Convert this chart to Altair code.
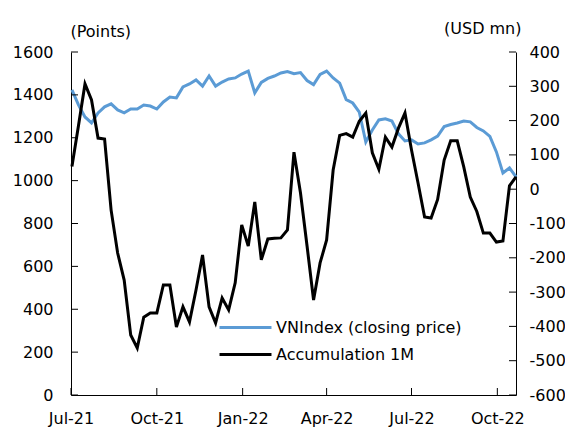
import altair as alt
import pandas as pd

# Weekly observations (Fridays) from 2 Jul 2021 to 21 Oct 2022
dates = pd.date_range("2021-07-02", periods=69, freq="7D")

vnindex = [1423, 1353, 1297, 1269, 1316, 1344, 1358, 1330, 1316, 1334,
           1334, 1353, 1348, 1334, 1367, 1390, 1386, 1437, 1451, 1470,
           1441, 1488, 1441, 1460, 1474, 1479, 1497, 1511, 1409, 1458,
           1477, 1488, 1502, 1509, 1499, 1504, 1467, 1448, 1495, 1511,
           1479, 1455, 1378, 1362, 1320, 1180, 1236, 1283, 1288, 1278,
           1218, 1185, 1190, 1171, 1176, 1190, 1208, 1252, 1262, 1269,
           1278, 1274, 1248, 1232, 1206, 1134, 1036, 1059, 1017]

accum_1m = [66, 185, 307, 260, 149, 146, -61, -186, -265, -425,
            -463, -373, -361, -361, -279, -279, -402, -343, -387, -294,
            -192, -343, -390, -317, -352, -273, -104, -166, -37, -206,
            -145, -143, -142, -119, 108, -11, -165, -323, -215, -148,
            56, 157, 162, 152, 198, 222, 106, 58, 152, 123,
            178, 222, 114, 18, -81, -84, -30, 85, 141, 141,
            65, -23, -65, -128, -128, -154, -151, 10, 36]

series_names = ["VNIndex (closing price)", "Accumulation 1M"]
series_colors = ["#5B9BD5", "#000000"]

x_tick_dates = ["2021-07-01T00:00:00", "2021-10-01T00:00:00", "2022-01-01T00:00:00",
                "2022-04-01T00:00:00", "2022-07-01T00:00:00", "2022-10-01T00:00:00"]
left_ticks = [0, 200, 400, 600, 800, 1000, 1200, 1400, 1600]
right_ticks = [-600, -500, -400, -300, -200, -100, 0, 100, 200, 300, 400]

W, H = 445, 343
FONT = "DejaVu Sans"
FS = 16
TICK = 7
PLAIN_LABEL = "datum.value < 0 ? '-' + abs(datum.value) : '' + datum.value"

df_vn = pd.DataFrame({"date": dates, "value": vnindex, "series": series_names[0]})
df_ac = pd.DataFrame({"date": dates, "value": accum_1m, "series": series_names[1]})
df_xt = pd.DataFrame({"date": pd.to_datetime(x_tick_dates)})
df_lt = pd.DataFrame({"value": left_ticks})
df_rt = pd.DataFrame({"value": right_ticks})

x_scale = alt.Scale(domain=["2021-07-01T00:00:00", "2022-10-21T00:00:00"])
x_axis = alt.Axis(
    title=None, format="%b-%y",
    values=[alt.DateTime(year=2021, month=7, date=1), alt.DateTime(year=2021, month=10, date=1),
            alt.DateTime(year=2022, month=1, date=1), alt.DateTime(year=2022, month=4, date=1),
            alt.DateTime(year=2022, month=7, date=1), alt.DateTime(year=2022, month=10, date=1)],
    ticks=False, tickSize=0, labelPadding=15, grid=False, labelFlush=False,
    domainColor="black", labelColor="black", labelFont=FONT, labelFontSize=FS,
)
left_scale = alt.Scale(domain=[0, 1600], nice=False, zero=False)
left_axis = alt.Axis(
    title="(Points)", titleAngle=0, titleAlign="left", titleBaseline="middle",
    titleX=-1, titleY=-21, titleFont=FONT, titleFontSize=FS, titleFontWeight="normal",
    titleColor="black",
    values=left_ticks, labelExpr=PLAIN_LABEL,
    ticks=False, tickSize=0, labelPadding=18, grid=False, labelFlush=False,
    domainColor="black", labelColor="black", labelFont=FONT, labelFontSize=FS,
)
right_scale = alt.Scale(domain=[-600, 400], nice=False, zero=False)
right_axis = alt.Axis(
    orient="right",
    title="(USD mn)", titleAngle=0, titleAlign="right", titleBaseline="middle",
    titleX=5, titleY=-24, titleFont=FONT, titleFontSize=FS, titleFontWeight="normal",
    titleColor="black",
    values=right_ticks, labelExpr=PLAIN_LABEL,
    ticks=False, tickSize=0, labelPadding=13, grid=False, labelFlush=False,
    domainColor="black", labelColor="black", labelFont=FONT, labelFontSize=FS,
)

color_enc = alt.Color(
    "series:N",
    scale=alt.Scale(domain=series_names, range=series_colors),
    legend=alt.Legend(
        title=None, orient="none", legendX=164, legendY=265,
        symbolType="M-3,0H3", symbolStrokeWidth=3, symbolSize=300,
        labelFont=FONT, labelFontSize=FS, labelColor="black", labelOffset=20,
        labelLimit=400, rowPadding=8,
    ),
)

x_enc = alt.X("date:T", scale=x_scale, axis=x_axis)

blue = alt.Chart(df_vn).mark_line(strokeWidth=3).encode(
    x=x_enc,
    y=alt.Y("value:Q", scale=left_scale, axis=left_axis),
    color=color_enc,
)
x_tick_rules = alt.Chart(df_xt).mark_rule(color="black", strokeWidth=1).encode(
    x=x_enc, y=alt.value(H), y2=alt.value(H - TICK),
)
left_tick_rules = alt.Chart(df_lt).mark_rule(color="black", strokeWidth=1).encode(
    y=alt.Y("value:Q", scale=left_scale, axis=left_axis),
    x=alt.value(0), x2=alt.value(TICK),
)

black = alt.Chart(df_ac).mark_line(strokeWidth=3).encode(
    x=x_enc,
    y=alt.Y("value:Q", scale=right_scale, axis=right_axis),
    color=color_enc,
)
right_tick_rules = alt.Chart(df_rt).mark_rule(color="black", strokeWidth=1).encode(
    y=alt.Y("value:Q", scale=right_scale, axis=right_axis),
    x=alt.value(W - TICK), x2=alt.value(W),
)

left_layer = alt.layer(blue, x_tick_rules, left_tick_rules)
right_layer = alt.layer(black, right_tick_rules)

chart = (
    alt.layer(left_layer, right_layer)
    .resolve_scale(y="independent")
    .properties(
        width=W, height=H,
        autosize=alt.AutoSizeParams(type="none"),
        padding={"left": 63, "top": 44, "right": 49, "bottom": 40},
        background="white",
    )
    .configure_view(stroke="transparent")
)

chart.save("out.html", embed_options={"renderer": "svg", "actions": False})
